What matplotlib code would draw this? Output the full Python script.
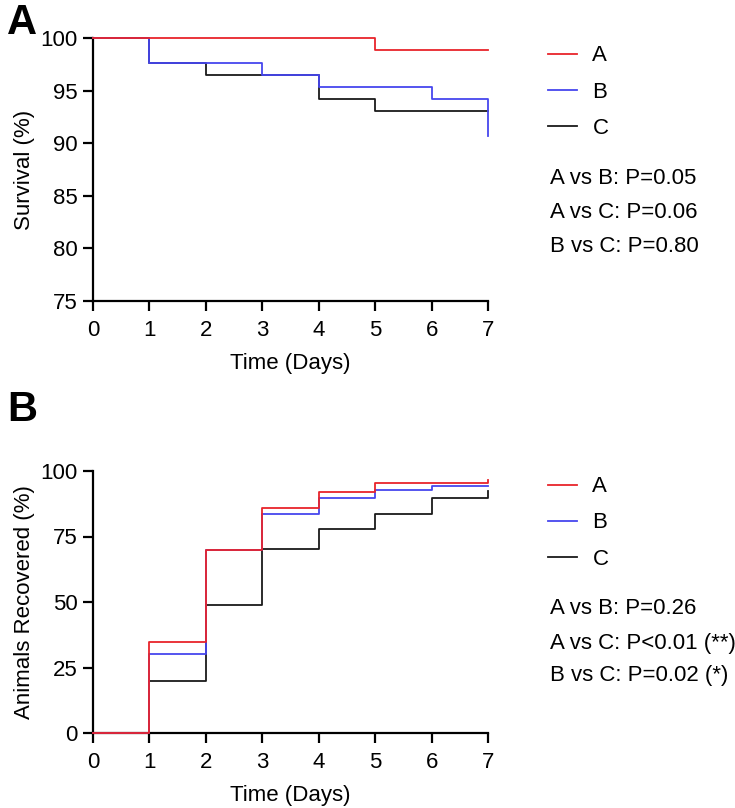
import numpy as np
import matplotlib
matplotlib.use("Agg")
import matplotlib.pyplot as plt

plt.rcParams["font.family"] = ["Liberation Sans", "DejaVu Sans"]

days = [0, 1, 2, 3, 4, 5, 6, 7]
groups = ["A", "B", "C"]
colors = ["#e8242b", "#4646ee", "#1a1a1a"]

survival_a = [100, 100, 100, 100, 100, 98.84, 98.84, 98.84]
survival_b = [100, 97.67, 97.67, 96.51, 95.35, 95.35, 94.19, 90.70]
survival_c = [100, 97.67, 96.51, 96.51, 94.19, 93.02, 93.02, 93.02]

recovered_a = [0, 34.9, 69.8, 86.0, 91.9, 95.3, 95.3, 96.6]
recovered_b = [0, 30.2, 69.8, 83.6, 89.6, 92.8, 94.1, 94.1]
recovered_c = [0, 19.7, 48.7, 70.4, 78.0, 83.6, 89.6, 92.4]

pvals_top = ["A vs B: P=0.05", "A vs C: P=0.06", "B vs C: P=0.80"]
pvals_bottom = ["A vs B: P=0.26", "A vs C: P<0.01 (**)", "B vs C: P=0.02 (*)"]

W, H = 735, 808
fig = plt.figure(figsize=(W / 100, H / 100), dpi=100)

FS = 16


def px(x, y):
    return x / W, 1 - y / H


def style_axes(ax):
    for s in ["top", "right"]:
        ax.spines[s].set_visible(False)
    for s in ["left", "bottom"]:
        ax.spines[s].set_linewidth(1.6)
    ax.tick_params(direction="out", length=7, width=1.6, labelsize=FS, pad=4)
    ax.tick_params(axis="x", pad=7)
    ax.set_xlim(0, 7)
    ax.set_xticks(days)
    ax.set_xlabel("Time (Days)", fontsize=FS, labelpad=8)


def draw_panel(ax, series, order):
    lines = {}
    for i in order:
        (ln,) = ax.step(days, series[i], where="post", color=colors[i],
                        lw=1.3, clip_on=False, zorder=6 if i == 0 else 3)
        lines[i] = ln
    return [lines[i] for i in range(3)]


def side_text(handles, leg_y, p_y, texts):
    fig.legend(handles, groups, loc="center left",
               bbox_to_anchor=px(548, leg_y), frameon=False, fontsize=FS,
               handlelength=1.3, handletextpad=0.7, labelspacing=0.68,
               borderpad=0, borderaxespad=0)
    for k, t in enumerate(texts):
        fig.text(*px(550, p_y[k]), t, fontsize=FS, va="center", ha="left")


# Panel A
ax1 = fig.add_axes([93 / W, 1 - 301 / H, (488 - 93) / W, (301 - 38) / H])
style_axes(ax1)
ax1.set_ylim(75, 100)
ax1.set_yticks([75, 80, 85, 90, 95, 100])
ax1.set_ylabel("Survival (%)", fontsize=FS, labelpad=4)
h1 = draw_panel(ax1, [survival_a, survival_b, survival_c], [2, 1, 0])
side_text(h1, 92, [179, 213, 246], pvals_top)

# Panel B
ax2 = fig.add_axes([93 / W, 1 - 733 / H, (488 - 93) / W, (733 - 471) / H])
style_axes(ax2)
ax2.set_ylim(0, 100)
ax2.set_yticks([0, 25, 50, 75, 100])
ax2.set_ylabel("Animals Recovered (%)", fontsize=FS, labelpad=4)
h2 = draw_panel(ax2, [recovered_a, recovered_b, recovered_c], [2, 1, 0])
side_text(h2, 523, [609, 643, 676], pvals_bottom)

fig.text(*px(7, 3), "A", fontsize=30, fontweight="bold", va="top", ha="left")
fig.text(*px(7, 390), "B", fontsize=30, fontweight="bold", va="top", ha="left")

fig.savefig("out.png", dpi=100)
